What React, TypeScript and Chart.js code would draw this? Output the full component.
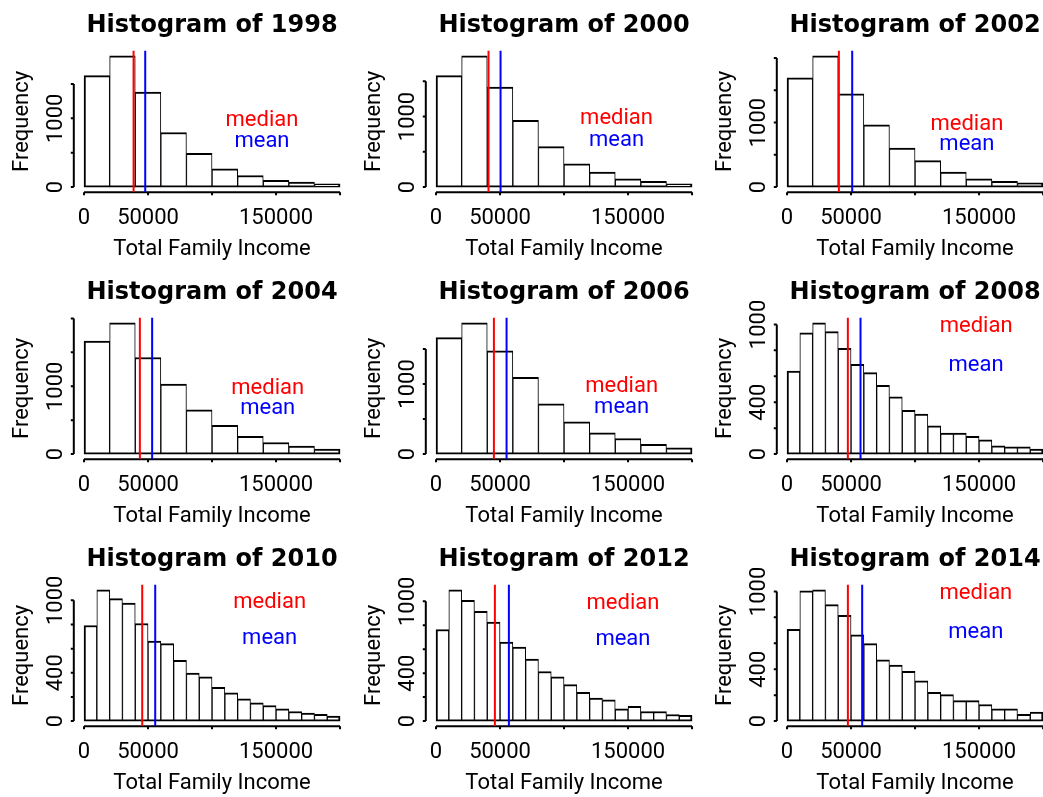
import React, { useEffect, useRef } from 'react';
import { Chart, registerables } from 'chart.js';

Chart.register(...registerables);

// ---------------- data ----------------
const years = ['1998', '2000', '2002', '2004', '2006', '2008', '2010', '2012', '2014'];
const binWidths = [20000, 20000, 20000, 20000, 20000, 10000, 10000, 10000, 10000];
const counts1998 = [1620, 1909, 1380, 793, 490, 264, 168, 96, 72, 48];
const counts2000 = [1580, 1861, 1416, 947, 572, 328, 211, 117, 80, 47];
const counts2002 = [1692, 2036, 1446, 964, 605, 410, 231, 128, 87, 67];
const counts2004 = [1668, 1937, 1424, 1034, 654, 424, 263, 171, 117, 73];
const counts2006 = [1660, 1873, 1472, 1094, 717, 458, 302, 222, 137, 90];
const counts2008 = [641, 936, 1013, 944, 815, 692, 628, 531, 441, 338, 308, 218, 162, 162, 136, 110, 64, 56, 56, 38];
const counts2010 = [792, 1088, 1014, 978, 808, 663, 641, 504, 397, 367, 279, 233, 184, 151, 129, 101, 79, 66, 55, 41];
const counts2012 = [765, 1097, 1008, 917, 826, 660, 619, 517, 414, 370, 304, 240, 191, 177, 102, 122, 80, 80, 55, 47];
const counts2014 = [707, 1005, 1013, 898, 816, 666, 597, 472, 431, 383, 311, 222, 204, 158, 158, 128, 94, 94, 51, 69];
const countsByYear = [counts1998, counts2000, counts2002, counts2004, counts2006, counts2008, counts2010, counts2012, counts2014];
const medians = [38700, 41000, 40500, 43600, 45200, 47500, 45450, 45970, 47530];
const means = [47800, 50400, 50900, 53200, 55100, 57400, 55600, 56900, 58700];
const yTickSteps = [500, 500, 500, 500, 500, 200, 200, 200, 200];
const xTickValues = [0, 50000, 100000, 150000, 200000];
const annotationX = [139000, 141000, 140500, 143500, 145000, 147700, 145000, 146000, 147500];
const medianTextY = 1000;
const meanTextY = 700;
const titlePrefix = 'Histogram of ';
const xTitle = 'Total Family Income';
const yTitle = 'Frequency';

// ---------------- layout ----------------
const PAGE_W = 1043;
const PAGE_H = 797;
const PANEL_W = 352;
const PANEL_H = 267;
const COL_LEFT = [0, 352, 703];
const ROW_TOP = [0, 267, 534];
const PLOT_BOX = { left: 73.8, top: 50.5, right: 350.3, bottom: 192.3 };
const FONT_FAMILY = 'Roboto, "Liberation Sans", sans-serif';
const LABEL_FONT = `22px ${FONT_FAMILY}`;
const TITLE_FONT = `bold 24px "DejaVu Sans", ${FONT_FAMILY}`;
const TICK_LEN = 3;
const LINE_W = 2;

function rotatedText(ctx: CanvasRenderingContext2D, text: string, x: number, y: number) {
  ctx.save();
  ctx.translate(x, y);
  ctx.rotate(-Math.PI / 2);
  ctx.textAlign = 'center';
  ctx.textBaseline = 'alphabetic';
  ctx.fillText(text, 0, 0);
  ctx.restore();
}

// R-style label thinning: skip a label that would come closer than about one 'm' to the previous one
function visibleLabels(ctx: CanvasRenderingContext2D, items: { pos: number; text: string }[]) {
  const gap = ctx.measureText('m').width * 1.1;
  let lastEnd = -Infinity;
  const out: { pos: number; text: string }[] = [];
  for (const it of items) {
    const w = ctx.measureText(it.text).width;
    if (it.pos - w / 2 >= lastEnd + gap) {
      out.push(it);
      lastEnd = it.pos + w / 2;
    }
  }
  return out;
}

function makeDecor(i: number) {
  return {
    id: 'rDecor' + i,
    beforeDatasetsDraw(chart: any) {
      const { ctx, chartArea: a } = chart;
      const xs = chart.scales.x;
      const ys = chart.scales.y;
      ctx.save();
      ctx.strokeStyle = '#000';
      ctx.fillStyle = '#000';
      ctx.lineWidth = LINE_W;
      ctx.lineCap = 'butt';
      // x axis
      const xv = xs.ticks.map((t: any) => t.value);
      ctx.beginPath();
      ctx.moveTo(xs.getPixelForValue(xv[0]), a.bottom);
      ctx.lineTo(xs.getPixelForValue(xv[xv.length - 1]), a.bottom);
      for (const v of xv) {
        const p = xs.getPixelForValue(v);
        ctx.moveTo(p, a.bottom);
        ctx.lineTo(p, a.bottom + TICK_LEN);
      }
      ctx.stroke();
      // y axis
      const yv = ys.ticks.map((t: any) => t.value);
      ctx.beginPath();
      ctx.moveTo(a.left, ys.getPixelForValue(yv[0]));
      ctx.lineTo(a.left, ys.getPixelForValue(yv[yv.length - 1]));
      for (const v of yv) {
        const p = ys.getPixelForValue(v);
        ctx.moveTo(a.left, p);
        ctx.lineTo(a.left - TICK_LEN, p);
      }
      ctx.stroke();
      // tick labels
      ctx.font = LABEL_FONT;
      ctx.textAlign = 'center';
      ctx.textBaseline = 'alphabetic';
      const xl = visibleLabels(ctx, xv.map((v: number) => ({ pos: xs.getPixelForValue(v), text: String(v) })));
      for (const l of xl) ctx.fillText(l.text, l.pos, a.bottom + 31.7);
      const yl = visibleLabels(ctx, yv.map((v: number) => ({ pos: -ys.getPixelForValue(v), text: String(v) })));
      for (const l of yl) rotatedText(ctx, l.text, a.left - 12.3, -l.pos);
      // axis titles
      ctx.fillText(xTitle, (a.left + a.right) / 2, a.bottom + 62.7);
      rotatedText(ctx, yTitle, a.left - 45.8, (a.top + a.bottom) / 2);
      // main title
      ctx.font = TITLE_FONT;
      ctx.fillText(titlePrefix + years[i], (a.left + a.right) / 2, a.top - 19);
      ctx.restore();
    },
    afterDatasetsDraw(chart: any) {
      const { ctx } = chart;
      const xs = chart.scales.x;
      const ys = chart.scales.y;
      ctx.save();
      ctx.font = LABEL_FONT;
      ctx.textAlign = 'center';
      ctx.textBaseline = 'alphabetic';
      const px = xs.getPixelForValue(annotationX[i]);
      ctx.fillStyle = '#ff0000';
      ctx.fillText('median', px, ys.getPixelForValue(medianTextY) + 7.9);
      ctx.fillStyle = '#0000ff';
      ctx.fillText('mean', px, ys.getPixelForValue(meanTextY) + 7.9);
      ctx.restore();
    },
  };
}

function buildConfig(i: number): any {
  const counts = countsByYear[i];
  const bw = binWidths[i];
  const n = counts.length;
  const hi = bw * n;
  const xPad = 0.04 * hi;
  const maxCount = Math.max(...counts);
  const yLo = -0.04 * maxCount;
  const yHi = 1.04 * maxCount;
  const step = yTickSteps[i];
  const vline = (v: number, color: string) => ({
    type: 'line',
    data: [{ x: v, y: yLo }, { x: v, y: yHi }],
    borderColor: color,
    borderWidth: LINE_W,
    pointRadius: 0,
    fill: false,
    order: 1,
  });
  return {
    type: 'bar',
    data: {
      datasets: [
        {
          type: 'bar',
          data: counts.map((c, k) => ({ x: (k + 0.5) * bw, y: c })),
          backgroundColor: '#ffffff',
          borderColor: '#000000',
          borderWidth: (ctx: any) => ({
            top: 2,
            bottom: 2,
            left: ctx.dataIndex === 0 ? 2 : 1,
            right: ctx.dataIndex === n - 1 ? 2 : 1,
          }),
          borderSkipped: false,
          barPercentage: 1,
          categoryPercentage: 1,
          order: 2,
        },
        vline(medians[i], '#ff0000'),
        vline(means[i], '#0000ff'),
      ],
    },
    options: {
      animation: false,
      responsive: false,
      devicePixelRatio: 1,
      events: [],
      layout: {
        padding: {
          left: PLOT_BOX.left,
          top: PLOT_BOX.top,
          right: PANEL_W - PLOT_BOX.right,
          bottom: PANEL_H - PLOT_BOX.bottom,
        },
      },
      plugins: { legend: { display: false }, tooltip: { enabled: false }, title: { display: false } },
      scales: {
        x: {
          type: 'linear',
          offset: false,
          min: -xPad,
          max: hi + xPad,
          display: false,
          afterBuildTicks: (s: any) => {
            s.ticks = xTickValues.map((v) => ({ value: v }));
          },
        },
        y: {
          type: 'linear',
          offset: false,
          min: yLo,
          max: yHi,
          display: false,
          afterBuildTicks: (s: any) => {
            const t: { value: number }[] = [];
            for (let v = 0; v <= yHi; v += step) t.push({ value: v });
            s.ticks = t;
          },
        },
      },
    },
    plugins: [makeDecor(i)],
  };
}

function Panel({ index }: { index: number }) {
  const ref = useRef<HTMLCanvasElement>(null);
  useEffect(() => {
    const chart = new Chart(ref.current as HTMLCanvasElement, buildConfig(index));
    return () => chart.destroy();
  }, [index]);
  return (
    <canvas
      ref={ref}
      width={PANEL_W}
      height={PANEL_H}
      style={{
        position: 'absolute',
        left: COL_LEFT[index % 3],
        top: ROW_TOP[Math.floor(index / 3)],
        width: PANEL_W,
        height: PANEL_H,
      }}
    />
  );
}

export default function App() {
  return (
    <div
      style={{
        position: 'fixed',
        left: 0,
        top: 0,
        width: PAGE_W,
        height: PAGE_H,
        overflow: 'hidden',
        background: '#ffffff',
      }}
    >
      {years.map((_, i) => (
        <Panel key={i} index={i} />
      ))}
    </div>
  );
}
